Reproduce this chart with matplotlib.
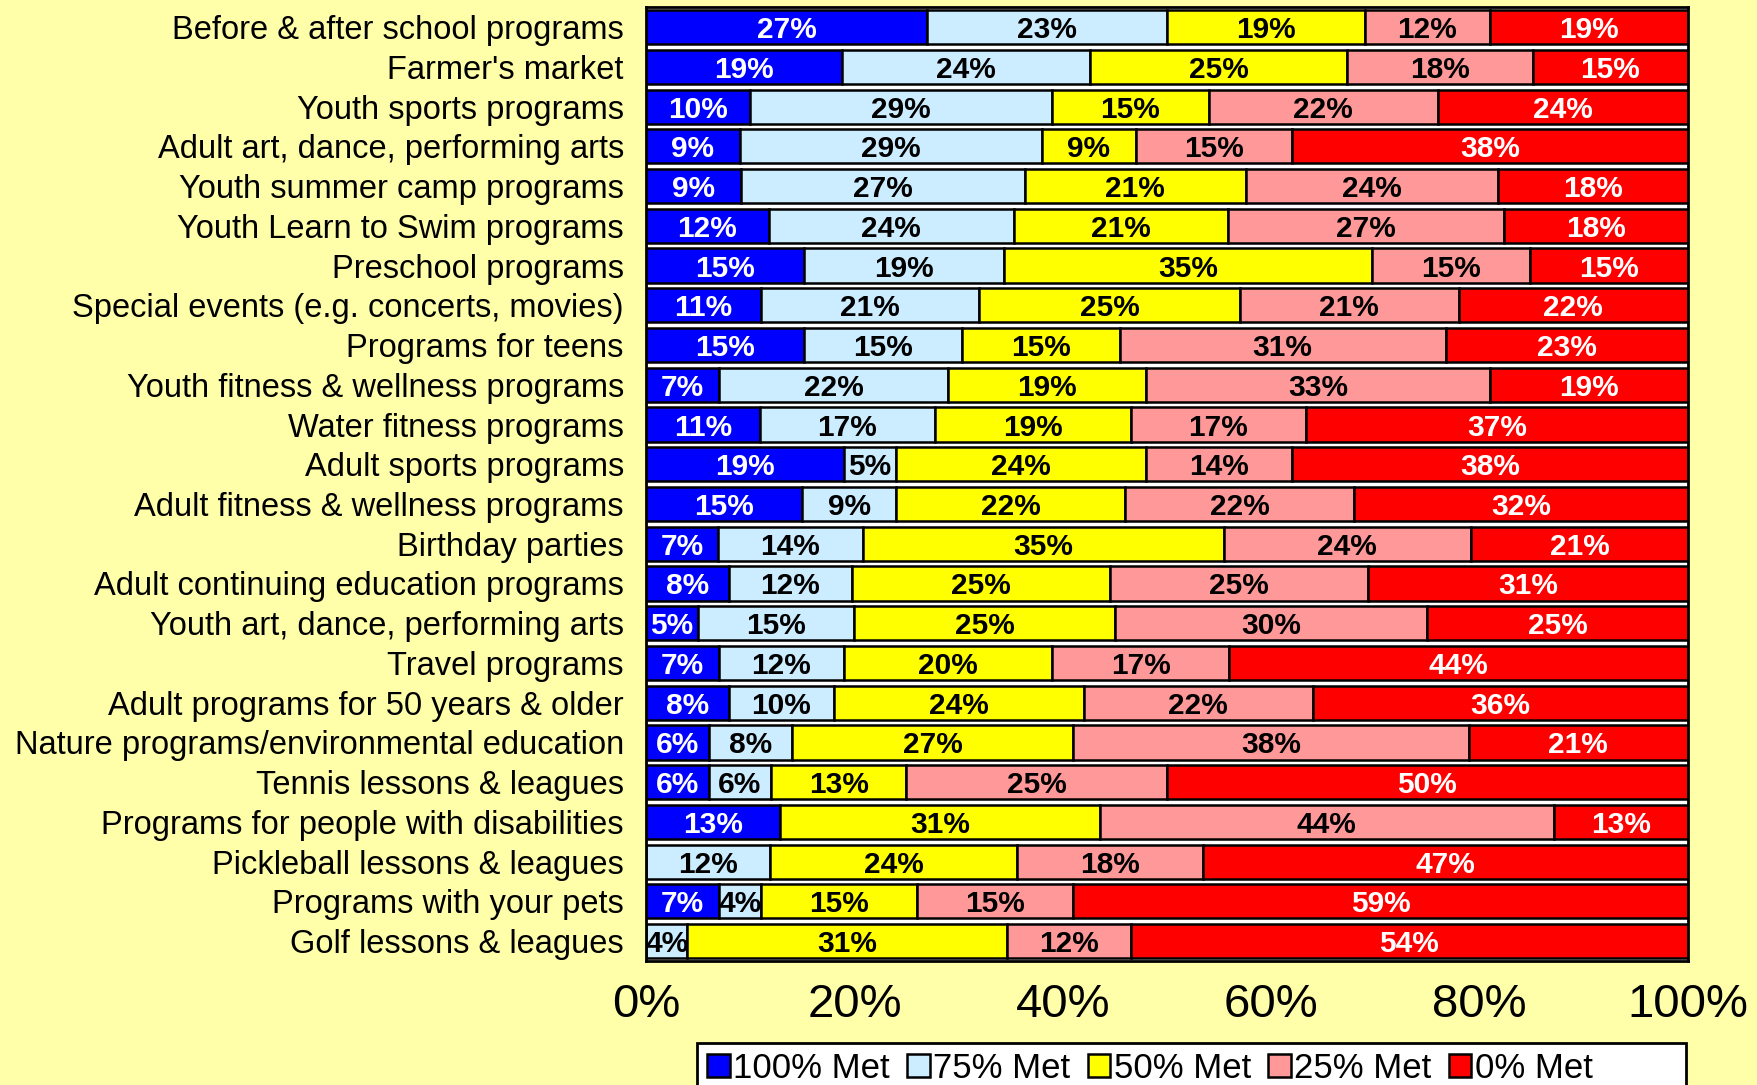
import numpy as np
import matplotlib
matplotlib.use('Agg')
from matplotlib import pyplot as plt
from matplotlib.patches import Rectangle

categories = [
  "Before & after school programs",
  "Farmer's market",
  "Youth sports programs",
  "Adult art, dance, performing arts",
  "Youth summer camp programs",
  "Youth Learn to Swim programs",
  "Preschool programs",
  "Special events (e.g. concerts, movies)",
  "Programs for teens",
  "Youth fitness & wellness programs",
  "Water fitness programs",
  "Adult sports programs",
  "Adult fitness & wellness programs",
  "Birthday parties",
  "Adult continuing education programs",
  "Youth art, dance, performing arts",
  "Travel programs",
  "Adult programs for 50 years & older",
  "Nature programs/environmental education",
  "Tennis lessons & leagues",
  "Programs for people with disabilities",
  "Pickleball lessons & leagues",
  "Programs with your pets",
  "Golf lessons & leagues",
]

met_100 = [27, 19, 10, 9, 9, 12, 15, 11, 15, 7, 11, 19, 15, 7, 8, 5, 7, 8, 6, 6, 13, 0, 7, 0]
met_75 = [23, 24, 29, 29, 27, 24, 19, 21, 15, 22, 17, 5, 9, 14, 12, 15, 12, 10, 8, 6, 0, 12, 4, 4]
met_50 = [19, 25, 15, 9, 21, 21, 35, 25, 15, 19, 19, 24, 22, 35, 25, 25, 20, 24, 27, 13, 31, 24, 15, 31]
met_25 = [12, 18, 22, 15, 24, 27, 15, 21, 31, 33, 17, 14, 22, 24, 25, 30, 17, 22, 38, 25, 44, 18, 15, 12]
met_0 = [19, 15, 24, 38, 18, 18, 15, 22, 23, 19, 37, 38, 32, 21, 31, 25, 44, 36, 21, 50, 13, 47, 59, 54]

series_names = ['100% Met', '75% Met', '50% Met', '25% Met', '0% Met']
colors = ['#0000FF', '#CCECFF', '#FFFF00', '#FF9999', '#FF0000']
text_colors = ['white', 'black', 'black', 'black', 'white']

bg = '#FFFFAA'
narrow = ['Liberation Sans Narrow', 'Liberation Sans', 'DejaVu Sans']
plt.rcParams['font.family'] = ['Liberation Sans', 'DejaVu Sans']

data = np.array([met_100, met_75, met_50, met_25, met_0], dtype=float)
shares = data / data.sum(axis=0) * 100

fig = plt.figure(figsize=(17.58, 10.85), dpi=100, facecolor=bg)
ax = fig.add_axes([0.3675, 0.1143, 0.5925, 0.8790])
ax.set_facecolor('white')

y = np.arange(len(categories))
left = np.zeros(len(categories))
handles = []
for i in range(5):
  bars = ax.barh(y, shares[i], left=left, height=0.86, color=colors[i],
                 edgecolor='black', linewidth=1.8, label=series_names[i])
  handles.append(bars)
  for j in range(len(categories)):
    if data[i, j] > 0:
      ax.text(left[j] + shares[i, j] / 2, y[j], f'{int(data[i, j])}%',
              ha='center', va='center_baseline', fontsize=21.5, fontweight='bold',
              color=text_colors[i])
  left += shares[i]

ax.set_ylim(len(categories) - 0.5, -0.5)
ax.set_xlim(0, 100)
ax.set_yticks(y)
ax.set_yticklabels(categories, fontsize=23.5)
ax.set_xticks(np.arange(0, 101, 20))
ax.set_xticklabels([f'{v}%' for v in range(0, 101, 20)], fontsize=34, family=narrow)
ax.tick_params(axis='both', length=0)
ax.tick_params(axis='y', pad=16)
ax.tick_params(axis='x', pad=16)
for s in ax.spines.values():
  s.set_linewidth(2)
  s.set_color('black')

# legend box
fig.patches.append(Rectangle((697 / 1758, -0.01), 989 / 1758, 1 - 1043 / 1085 + 0.01,
                             transform=fig.transFigure, facecolor='white',
                             edgecolor='black', linewidth=2))
fig.legend(handles=handles, loc='upper left', bbox_to_anchor=(700 / 1758, 1 - 1045 / 1085),
           ncol=5, frameon=False, prop={'family': narrow, 'size': 25},
           handlelength=0.65, handleheight=0.65, handletextpad=0.1,
           columnspacing=0.5, borderaxespad=0, borderpad=0.2)

fig.savefig('out.png', dpi=100, facecolor=bg)
